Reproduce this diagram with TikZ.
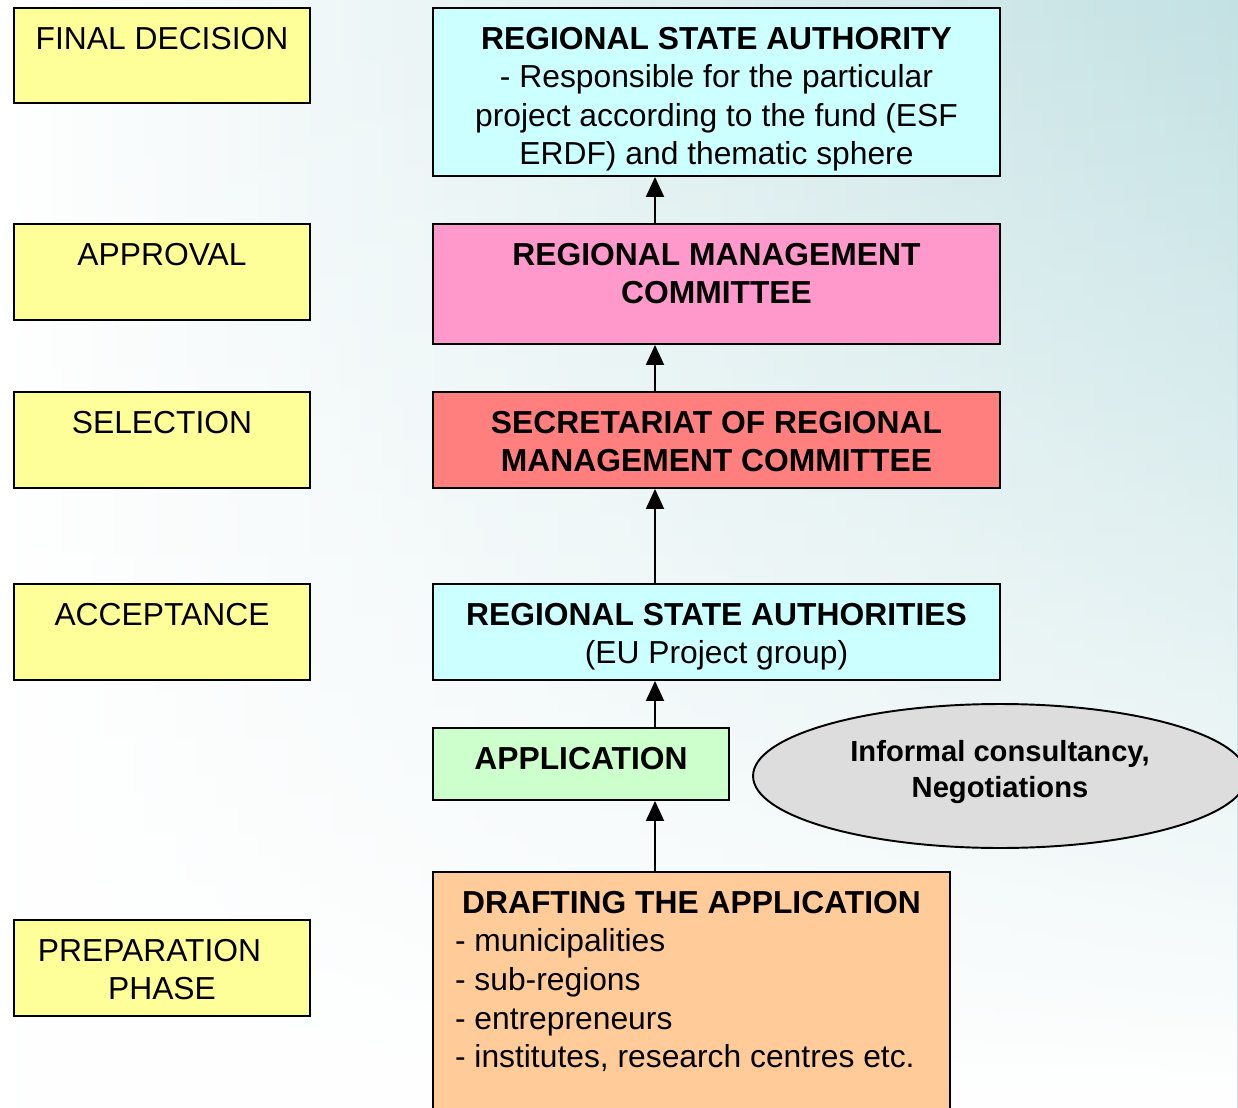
\documentclass[tikz,border=0pt]{standalone}
\usepackage{fontspec}
\setmainfont{Liberation Sans}
\usetikzlibrary{arrows.meta,shapes.geometric,fadings}
\definecolor{bgteal}{HTML}{C3E1E3}
\definecolor{ybg}{HTML}{FFFF99}
\definecolor{cbg}{HTML}{CCFFFF}
\definecolor{pbg}{HTML}{FF99CC}
\definecolor{rbg}{HTML}{FF7F7F}
\definecolor{gbg}{HTML}{CCFFCC}
\definecolor{obg}{HTML}{FFCC99}
\definecolor{ebg}{HTML}{DDDDDD}
\begin{document}
\begin{tikzpicture}[x=0.02cm,y=-0.02cm,
  box/.style={draw=black, line width=1.1pt, inner sep=0pt, rectangle},
  ybox/.style={box, fill=ybg, minimum width=5.92cm, minimum height=1.92cm},
  rbox/.style={box, minimum width=11.34cm},
  lbl/.style={anchor=base, yshift=-0.84cm, inner sep=0pt, font=\fontsize{18.1}{22}\selectfont},
  arr/.style={line width=1.13pt, -{Triangle[width=0.36cm,length=0.4cm]}}
]
\useasboundingbox (0,0) rectangle (1238,1108);
\clip (0,0) rectangle (1238,1108);
\shade[left color=white, right color=bgteal] (0,0) rectangle (1238,1108);
\fill[white, path fading=north] (0,0) rectangle (1238,1108);

% left column
\node[ybox, minimum height=1.9cm, label={[lbl]north:{\parbox[t]{5.92cm}{\centering FINAL DECISION}}}] (fd) at (162,55.5) {};
\node[ybox, label={[lbl]north:{\parbox[t]{5.92cm}{\centering APPROVAL}}}] (ap) at (162,272) {};
\node[ybox, label={[lbl]north:{\parbox[t]{5.92cm}{\centering SELECTION}}}] (se) at (162,440) {};
\node[ybox, label={[lbl]north:{\parbox[t]{5.92cm}{\centering ACCEPTANCE}}}] (ac) at (162,632) {};
\node[ybox, label={[lbl]north:{\parbox[t]{5.92cm}{\centering PREPARATION\rule{0.5cm}{0pt}\\PHASE}}}] (pp) at (162,968) {};

% right column
\node[rbox, fill=cbg, minimum height=3.36cm, label={[lbl]north:{\parbox[t]{11.34cm}{\centering\textbf{REGIONAL STATE AUTHORITY}\\- Responsible for the particular\\project according to the fund (ESF\\ERDF) and thematic sphere}}}] (rsa) at (716.5,92) {};
\node[rbox, fill=pbg, minimum height=2.4cm, label={[lbl]north:{\parbox[t]{11.34cm}{\centering\bfseries REGIONAL MANAGEMENT\\COMMITTEE}}}] (rmc) at (716.5,284) {};
\node[rbox, fill=rbg, minimum height=1.92cm, label={[lbl]north:{\parbox[t]{11.34cm}{\centering\bfseries SECRETARIAT OF REGIONAL\\MANAGEMENT COMMITTEE}}}] (sec) at (716.5,440) {};
\node[rbox, fill=cbg, minimum height=1.92cm, label={[lbl]north:{\parbox[t]{11.34cm}{\centering\textbf{REGIONAL STATE AUTHORITIES}\\(EU Project group)}}}] (rsas) at (716.5,632) {};
\node[box, fill=gbg, minimum width=5.92cm, minimum height=1.44cm, label={[lbl]north:{\parbox[t]{5.92cm}{\centering\bfseries APPLICATION}}}] (app) at (581,764) {};
\node[box, fill=obg, minimum width=10.34cm, minimum height=4.96cm, label={[lbl]north:{\parbox[t]{9.46cm}{\centering\textbf{DRAFTING THE APPLICATION}\endgraf\raggedright - municipalities\\- sub-regions\\- entrepreneurs\\- institutes, research centres etc.}}}] (dr) at (691.5,996) {};

% ellipse
\node[ellipse, draw=black, line width=1.1pt, fill=ebg, minimum width=9.88cm, minimum height=2.88cm, inner sep=0pt,
  label={[yshift=0.08cm, align=center, inner sep=0pt, font=\fontsize{16.6}{20.4}\selectfont\bfseries]center:{Informal consultancy,\\Negotiations}}] (inf) at (1000,776) {};

% arrows
\coordinate (ax) at (655,0);
\draw[arr] (rmc.north -| ax) -- (rsa.south -| ax);
\draw[arr] (sec.north -| ax) -- (rmc.south -| ax);
\draw[arr] (rsas.north -| ax) -- (sec.south -| ax);
\draw[arr] (app.north -| ax) -- (rsas.south -| ax);
\draw[arr] (dr.north -| ax) -- (app.south -| ax);
\end{tikzpicture}
\end{document}
